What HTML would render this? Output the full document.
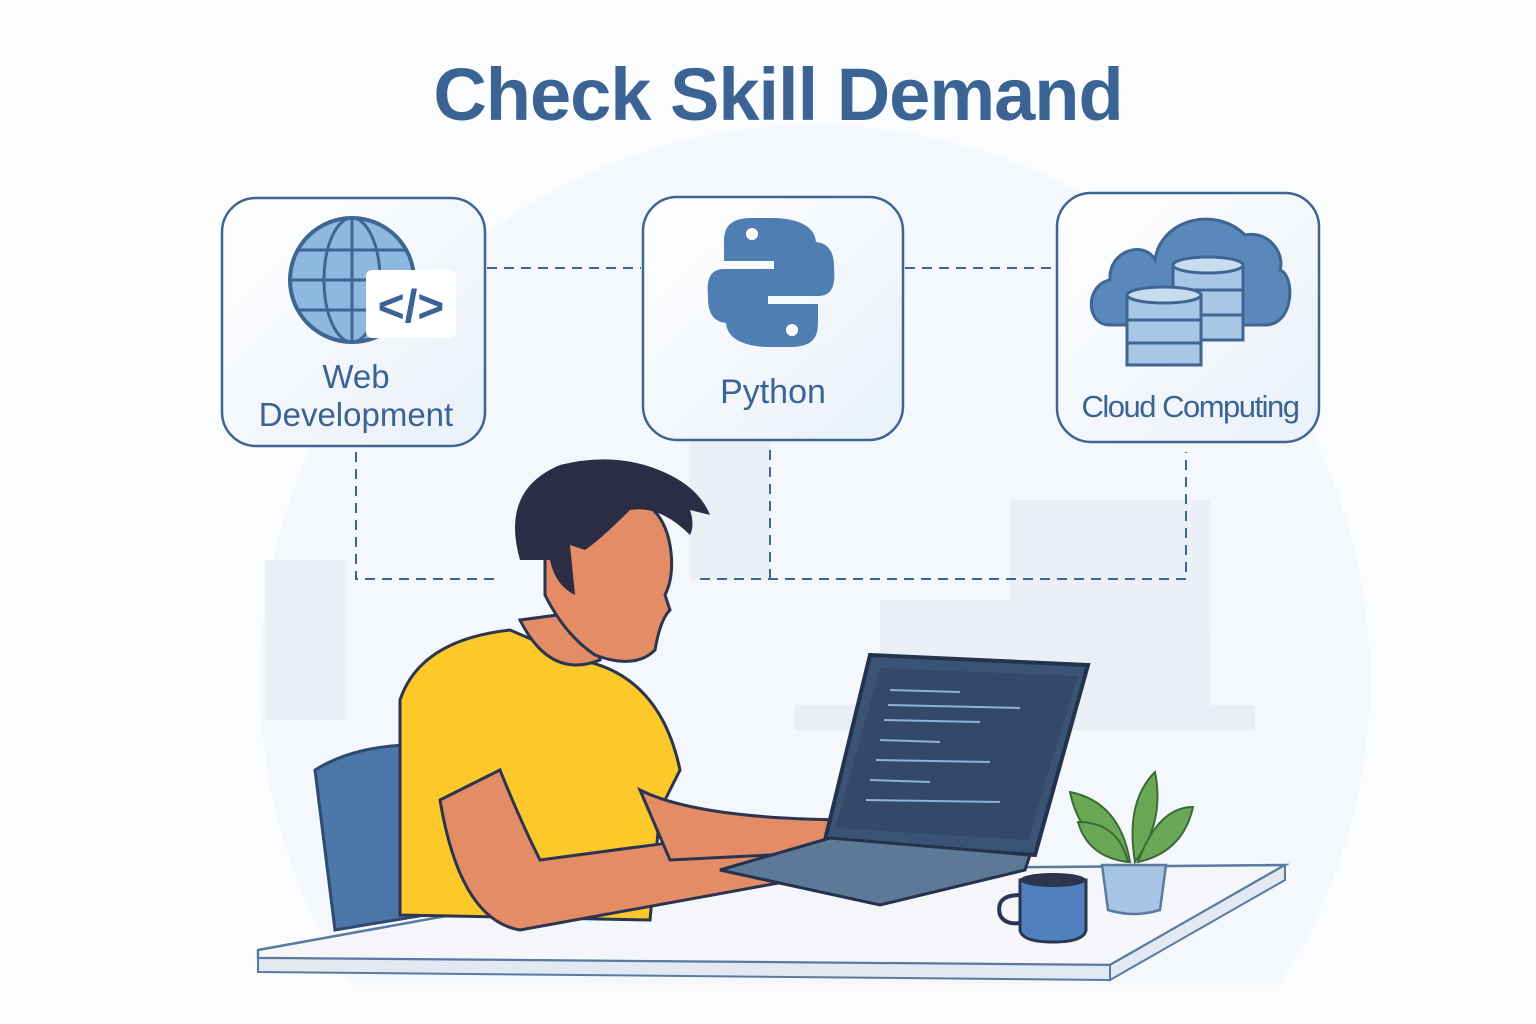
<!DOCTYPE html>
<html><head><meta charset="utf-8"><style>
html,body{margin:0;padding:0;background:#fbfcfe;width:1536px;height:1024px;overflow:hidden}
svg{display:block}
</style></head><body>
<svg width="1536" height="1024" viewBox="0 0 1536 1024" xmlns="http://www.w3.org/2000/svg">
<defs>
<linearGradient id="bx" x1="0" y1="0" x2="1" y2="1"><stop offset="0" stop-color="#ffffff"/><stop offset="1" stop-color="#e9f0f8"/></linearGradient>
</defs>
<rect width="1536" height="1024" fill="#fbfcfe"/>
<circle cx="815" cy="680" r="555" fill="#f4f7fb"/>
<rect x="0" y="985" width="1536" height="40" fill="#fbfcfe"/>
<g fill="#e8eef6" opacity="0.8">
<rect x="1010" y="500" width="200" height="220"/>
<rect x="880" y="600" width="130" height="100"/>
<rect x="795" y="705" width="460" height="25"/>
<rect x="265" y="560" width="80" height="160"/>
<rect x="690" y="440" width="80" height="140"/>
</g>
<text x="778" y="120" text-anchor="middle" font-family="Liberation Sans, sans-serif" font-weight="bold" font-size="74" fill="#3b6494" letter-spacing="-1">Check Skill Demand</text>
<g stroke="#3f6592" stroke-width="2" stroke-dasharray="10 7" fill="none">
<line x1="487" y1="268" x2="641" y2="268"/>
<line x1="905" y1="268" x2="1055" y2="268"/>
<polyline points="356,452 356,579 498,579"/>
<line x1="770" y1="450" x2="770" y2="579"/>
<polyline points="700,579 1186,579 1186,452"/>
</g>
<g stroke="#3f6592" stroke-width="2.5" fill="url(#bx)">
<rect x="222" y="198" width="263" height="248" rx="34"/>
<rect x="643" y="197" width="260" height="243" rx="34"/>
<rect x="1057" y="193" width="262" height="249" rx="34"/>
</g>
<g>
<circle cx="352" cy="280" r="62" fill="#8db8e0" stroke="#3f6592" stroke-width="4"/>
<g stroke="#3f6592" stroke-width="3" fill="none">
<ellipse cx="352" cy="280" rx="28" ry="62"/>
<line x1="352" y1="218" x2="352" y2="342"/>
<line x1="290" y1="280" x2="414" y2="280"/>
<path d="M298 250 H406 M298 310 H406"/>
</g>
<rect x="366" y="270" width="90" height="68" rx="6" fill="#fff"/>
<text x="411" y="322" text-anchor="middle" font-family="Liberation Sans, sans-serif" font-weight="bold" font-size="46" fill="#3b6494">&lt;/&gt;</text>
</g>
<text x="356" y="388" text-anchor="middle" font-family="Liberation Sans, sans-serif" font-size="33" fill="#3b6494">Web</text>
<text x="356" y="426" text-anchor="middle" font-family="Liberation Sans, sans-serif" font-size="33" fill="#3b6494">Development</text>
<g fill="#4f7eb2">
<path d="M772 218 h-20 c-25 0 -28 12 -28 25 v18 h50 v8 h-50 c-20 0 -16 22 -16 30 c0 14 6 24 20 24 h14 v-18 c0 -14 10 -22 24 -22 h30 c12 0 20 -8 20 -20 v-20 c0 -14 -14 -25 -44 -25z"/>
<path d="M770 347 h20 c25 0 28 -12 28 -25 v-18 h-50 v-8 h50 c20 0 16 -22 16 -30 c0 -14 -6 -24 -20 -24 h-14 v18 c0 14 -10 22 -24 22 h-30 c-12 0 -20 8 -20 20 v20 c0 14 14 25 44 25z"/>
</g>
<circle cx="752" cy="234" r="6" fill="#fff"/><circle cx="792" cy="330" r="6" fill="#fff"/>
<text x="773" y="403" text-anchor="middle" font-family="Liberation Sans, sans-serif" font-size="34" fill="#3b6494">Python</text>
<g fill="#5b88bb" stroke="#3f6592" stroke-width="3">
<path d="M1110 325 c-25 0 -25 -40 0 -45 c-2 -30 35 -40 45 -20 c5 -40 60 -55 90 -25 c25 -5 40 20 35 35 c15 5 15 55 -15 55z"/>
</g>
<g stroke="#3f6592" stroke-width="3">
<rect x="1173" y="265" width="70" height="75" fill="#a8c6e6"/>
<ellipse cx="1208" cy="265" rx="35" ry="8" fill="#c8dcf0"/>
<line x1="1173" y1="290" x2="1243" y2="290"/><line x1="1173" y1="315" x2="1243" y2="315"/>
<rect x="1127" y="295" width="74" height="70" fill="#a8c6e6"/>
<ellipse cx="1164" cy="295" rx="37" ry="8" fill="#c8dcf0"/>
<line x1="1127" y1="320" x2="1201" y2="320"/><line x1="1127" y1="343" x2="1201" y2="343"/>
</g>
<text x="1190" y="417" text-anchor="middle" font-family="Liberation Sans, sans-serif" font-size="31" fill="#3b6494" letter-spacing="-1.5">Cloud Computing</text>
<path d="M315 770 q40 -25 100 -25 l10 170 l-90 15z" fill="#4a77a8" stroke="#2e4a6e" stroke-width="3"/>
<path d="M258 950 L700 870 L1285 865 L1110 965 L258 958z" fill="#f4f6fa" stroke="#5a7aa0" stroke-width="2.5"/>
<path d="M258 958 L1110 965 L1110 980 L258 972z" fill="#e3e9f2" stroke="#5a7aa0" stroke-width="2"/>
<path d="M1110 965 L1285 865 L1285 880 L1110 980z" fill="#e3e9f2" stroke="#5a7aa0" stroke-width="2"/>
<path d="M400 700 q20 -60 110 -70 l70 30 q80 15 100 110 l-20 40 l-10 110 l-250 -5z" fill="#fdc82a" stroke="#2b3550" stroke-width="3"/>
<path d="M440 800 q20 120 80 130 l330 -60 l-10 -50 l-300 40 q-20 -40 -40 -90z" fill="#e38c66" stroke="#2b3550" stroke-width="3"/>
<path d="M640 790 q60 30 220 30 l10 30 l-200 10 z" fill="#e38c66" stroke="#2b3550" stroke-width="3"/>
<path d="M520 620 q30 60 80 40 l-5 -50z" fill="#e38c66" stroke="#2b3550" stroke-width="3"/>
<path d="M545 560 q-5 -60 55 -65 q60 -5 70 50 q5 30 -5 50 l5 15 q-10 10 -15 40 q-20 20 -60 5 q-30 -20 -50 -60z" fill="#e38c66" stroke="#2b3550" stroke-width="3"/>
<path d="M520 560 q-20 -70 40 -95 q60 -15 110 10 q30 15 40 40 l-20 -5 q5 15 0 25 q-30 -30 -60 -25 q-30 30 -45 40 l-15 -5 l5 50 q-20 -10 -25 -35z" fill="#2c2d45"/>
<path d="M870 655 L1088 665 L1035 855 L825 840z" fill="#3b5475" stroke="#24334d" stroke-width="4"/>
<path d="M880 668 L1078 676 L1028 840 L835 828z" fill="#34496a"/>
<g stroke="#8fb0d8" stroke-width="2">
<line x1="890" y1="690" x2="960" y2="692"/><line x1="888" y1="705" x2="1020" y2="708"/>
<line x1="884" y1="720" x2="980" y2="722"/><line x1="880" y1="740" x2="940" y2="742"/>
<line x1="876" y1="760" x2="990" y2="762"/><line x1="870" y1="780" x2="930" y2="782"/>
<line x1="866" y1="800" x2="1000" y2="802"/>
</g>
<path d="M720 870 L830 838 L1030 855 L1025 870 L880 905z" fill="#5e7898" stroke="#24334d" stroke-width="3"/>
<path d="M1020 880 h66 v50 q-2 12 -33 12 q-31 0 -33 -12z" fill="#4e81bd" stroke="#2b3550" stroke-width="3"/>
<path d="M1020 895 q-25 0 -20 20 q5 10 20 8" fill="none" stroke="#2b3550" stroke-width="4"/>
<ellipse cx="1053" cy="880" rx="33" ry="7" fill="#2b3550"/>
<path d="M1102 865 h64 l-6 45 q-26 8 -52 0z" fill="#a8c4e4" stroke="#5a7aa0" stroke-width="2.5"/>
<g fill="#6ba856" stroke="#3d6b37" stroke-width="2">
<path d="M1135 862 q-10 -60 20 -90 q10 50 -20 90z"/>
<path d="M1130 862 q-50 -20 -60 -70 q50 10 60 70z"/>
<path d="M1138 862 q20 -55 55 -55 q-10 45 -55 55z"/>
<path d="M1128 862 q-40 -5 -50 -40 q40 0 50 40z"/>
</g>
</svg>
</body></html>
